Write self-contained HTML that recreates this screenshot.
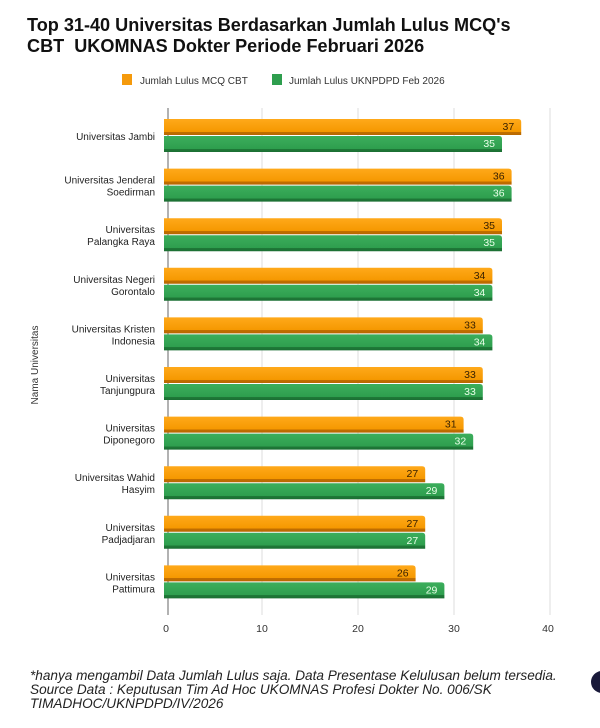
<!DOCTYPE html>
<html><head><style>
body{margin:0;background:#fff;width:600px;height:723px;overflow:hidden;font-family:"Liberation Sans",sans-serif}
</style></head><body>
<svg width="600" height="723" xmlns="http://www.w3.org/2000/svg" font-family="Liberation Sans, sans-serif">
<defs>
<linearGradient id="go" x1="0" y1="0" x2="0" y2="1"><stop offset="0" stop-color="#ffa91a"/><stop offset="0.8" stop-color="#f59800"/><stop offset="0.8" stop-color="#c26f00"/><stop offset="1" stop-color="#b86800"/></linearGradient>
<linearGradient id="gg" x1="0" y1="0" x2="0" y2="1"><stop offset="0" stop-color="#3cae5c"/><stop offset="0.8" stop-color="#2e9e4e"/><stop offset="0.8" stop-color="#1f7a38"/><stop offset="1" stop-color="#1b6e33"/></linearGradient>
</defs>
<text x="27" y="31" font-size="18.1" font-weight="bold" fill="#111">Top 31-40 Universitas Berdasarkan Jumlah Lulus MCQ's</text>
<text x="27" y="52" font-size="18.1" font-weight="bold" fill="#111">CBT&#160; UKOMNAS Dokter Periode Februari 2026</text>
<rect x="122" y="74" width="10" height="11" fill="#f59a0c"/>
<text x="140" y="84" font-size="10" fill="#333">Jumlah Lulus MCQ CBT</text>
<rect x="272" y="74" width="10" height="11" fill="#2e9e4e"/>
<text x="289" y="84" font-size="10" fill="#333">Jumlah Lulus UKNPDPD Feb 2026</text>
<g stroke="#ddd" stroke-width="1">
<line x1="262" y1="108" x2="262" y2="615"/><line x1="358" y1="108" x2="358" y2="615"/><line x1="454" y1="108" x2="454" y2="615"/><line x1="550" y1="108" x2="550" y2="615"/>
</g>
<line x1="168" y1="108" x2="168" y2="615" stroke="#666"/>
<g font-size="10.5" fill="#333" text-anchor="middle">
<text x="166" y="632">0</text><text x="262" y="632">10</text><text x="358" y="632">20</text><text x="454" y="632">30</text><text x="548" y="632">40</text>
</g>
<text transform="translate(38,365) rotate(-90)" font-size="10" fill="#333" text-anchor="middle">Nama Universitas</text>
<g id="bars" font-size="10.5"></g>
<g font-size="10" fill="#222" text-anchor="end" id="labels"></g>
<g font-size="13.6" font-style="italic" fill="#222">
<text x="30" y="680">*hanya mengambil Data Jumlah Lulus saja. Data Presentase Kelulusan belum tersedia.</text>
<text x="30" y="694">Source Data : Keputusan Tim Ad Hoc UKOMNAS Profesi Dokter No. 006/SK</text>
<text x="30" y="708">TIMADHOC/UKNPDPD/IV/2026</text>
</g>
<circle cx="602" cy="682" r="11" fill="#1a1a3a"/>
</svg>
<script>
var d=[["Universitas Jambi",null,37,35],["Universitas Jenderal","Soedirman",36,36],["Universitas","Palangka Raya",35,35],["Universitas Negeri","Gorontalo",34,34],["Universitas Kristen","Indonesia",33,34],["Universitas","Tanjungpura",33,33],["Universitas","Diponegoro",31,32],["Universitas Wahid","Hasyim",27,29],["Universitas","Padjadjaran",27,27],["Universitas","Pattimura",26,29]];
var ns="http://www.w3.org/2000/svg",b=document.getElementById("bars"),l=document.getElementById("labels");
function el(t,a,p,tx){var e=document.createElementNS(ns,t);for(var k in a)e.setAttribute(k,a[k]);if(tx)e.textContent=tx;p.appendChild(e);return e;}
function bar(y,v,g,tc){var w=v*9.6;var x0=164,x1=166+w;
el("path",{d:"M"+x0+" "+y+"H"+(x1-3)+"Q"+x1+" "+y+" "+x1+" "+(y+3)+"V"+(y+16)+"H"+x0+"Z",fill:"url(#"+g+")"},b);
el("text",{x:x1-7,y:y+11,"text-anchor":"end",fill:tc},b,String(v));}
d.forEach(function(r,i){var y=119+i*49.6;bar(y,r[2],"go","#3a2200");bar(y+17,r[3],"gg","#e8ffe8");
var c=y+17;if(r[1]){el("text",{x:155,y:c-2},l,r[0]);el("text",{x:155,y:c+10},l,r[1]);}else el("text",{x:155,y:c+4},l,r[0]);});
</script>
</body></html>
